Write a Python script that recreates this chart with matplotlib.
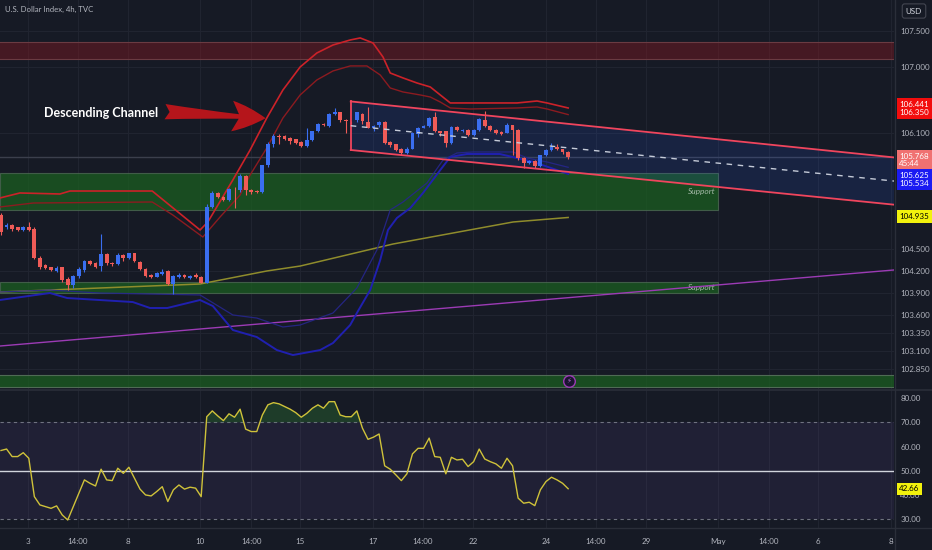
import matplotlib
matplotlib.use("Agg")
import matplotlib.pyplot as plt
from matplotlib.transforms import blended_transform_factory

plt.rcParams['font.family'] = ['Lato', 'DejaVu Sans']

# ---- 4h candles, bar 0 = first visible bar ----
opens = [104.97, 104.80, 104.83, 104.80, 104.76, 104.80, 104.78, 104.38, 104.28, 104.25,
         104.20, 104.25, 104.09, 104.00, 104.13, 104.21, 104.34, 104.31, 104.27, 104.43,
         104.31, 104.29, 104.42, 104.38, 104.44, 104.32, 104.23, 104.15, 104.12, 104.16,
         104.20, 104.02, 104.12, 104.15, 104.10, 104.14, 104.12, 104.04, 105.08, 105.27,
         105.22, 105.17, 105.33, 105.31, 105.51, 105.31, 105.30, 105.28, 105.65, 105.95,
         106.06, 106.05, 106.03, 106.01, 105.97, 105.92, 106.00, 106.12, 106.22, 106.19,
         106.36, 106.38, 106.28, 106.24, 106.27, 106.36, 106.25, 106.17, 106.20, 106.25,
         105.97, 105.94, 105.88, 105.82, 105.88, 106.08, 106.17, 106.19, 106.32, 106.12,
         106.12, 105.96, 106.18, 106.12, 106.14, 106.07, 106.14, 106.28, 106.19, 106.14,
         106.11, 106.10, 106.20, 106.14, 105.75, 105.69, 105.71, 105.64, 105.79, 105.86,
         105.90, 105.87, 105.84]
closes = [104.74, 104.83, 104.77, 104.76, 104.80, 104.76, 104.38, 104.25, 104.24, 104.21,
          104.24, 104.07, 104.00, 104.13, 104.23, 104.34, 104.30, 104.26, 104.43, 104.31,
          104.29, 104.42, 104.38, 104.44, 104.33, 104.22, 104.13, 104.12, 104.17, 104.19,
          104.02, 104.13, 104.15, 104.11, 104.13, 104.11, 104.04, 105.08, 105.27, 105.22,
          105.18, 105.33, 105.32, 105.51, 105.31, 105.28, 105.28, 105.65, 105.95, 106.06,
          106.04, 106.02, 105.99, 105.96, 105.92, 106.00, 106.12, 106.22, 106.20, 106.36,
          106.38, 106.27, 106.26, 106.23, 106.38, 106.26, 106.17, 106.19, 106.25, 105.96,
          105.93, 105.86, 105.82, 105.88, 106.10, 106.17, 106.19, 106.30, 106.12, 106.10,
          105.96, 106.18, 106.14, 106.14, 106.07, 106.14, 106.29, 106.19, 106.14, 106.09,
          106.08, 106.20, 106.14, 105.75, 105.68, 105.71, 105.64, 105.79, 105.86, 105.91,
          105.87, 105.83, 105.77]
highs = [104.99, 104.86, 104.84, 104.81, 104.82, 104.87, 104.80, 104.40, 104.30, 104.26,
         104.27, 104.26, 104.12, 104.15, 104.25, 104.35, 104.35, 104.32, 104.71, 104.44,
         104.32, 104.44, 104.43, 104.45, 104.45, 104.33, 104.24, 104.16, 104.18, 104.23,
         104.21, 104.14, 104.17, 104.16, 104.14, 104.17, 104.13, 105.12, 105.30, 105.29,
         105.23, 105.34, 105.36, 105.53, 105.52, 105.32, 105.31, 105.66, 105.97, 106.08,
         106.08, 106.07, 106.04, 106.02, 105.98, 106.16, 106.13, 106.23, 106.23, 106.37,
         106.44, 106.39, 106.29, 106.26, 106.39, 106.37, 106.45, 106.20, 106.26, 106.26,
         105.98, 105.95, 105.89, 105.90, 106.11, 106.18, 106.21, 106.31, 106.39, 106.13,
         106.13, 106.19, 106.19, 106.15, 106.15, 106.15, 106.30, 106.40, 106.20, 106.15,
         106.12, 106.24, 106.21, 106.15, 105.76, 105.72, 105.72, 105.80, 105.88, 105.96,
         105.94, 105.88, 105.85]
lows = [104.70, 104.78, 104.75, 104.75, 104.75, 104.75, 104.37, 104.23, 104.22, 104.20,
        104.19, 104.05, 103.94, 103.97, 104.10, 104.19, 104.28, 104.24, 104.20, 104.28,
        104.27, 104.28, 104.33, 104.36, 104.32, 104.21, 104.11, 104.10, 104.11, 104.15,
        104.01, 103.88, 104.10, 104.10, 104.09, 104.10, 104.03, 104.03, 105.06, 105.20,
        105.16, 105.16, 105.07, 105.29, 105.24, 105.26, 105.27, 105.27, 105.63, 105.90,
        105.95, 106.00, 105.95, 105.94, 105.90, 105.91, 105.98, 106.11, 106.19, 106.18,
        106.34, 106.25, 106.10, 106.22, 106.25, 106.22, 106.16, 106.12, 106.18, 105.95,
        105.91, 105.85, 105.80, 105.81, 105.87, 106.04, 106.16, 106.18, 106.11, 106.05,
        105.90, 105.95, 106.13, 106.11, 106.06, 106.06, 106.13, 106.18, 106.13, 106.08,
        106.07, 106.09, 105.80, 105.73, 105.62, 105.67, 105.62, 105.63, 105.78, 105.85,
        105.86, 105.81, 105.74]

rsi = [58.4, 59.0, 55.9, 55.9, 57.5, 55.2, 39.4, 36.0, 35.3, 34.6,
       35.6, 31.9, 29.8, 35.3, 40.8, 46.3, 44.9, 43.8, 50.7, 46.3,
       46.0, 51.1, 49.0, 51.5, 47.0, 42.5, 40.1, 39.7, 41.5, 43.5,
       37.4, 42.2, 44.2, 42.5, 43.3, 42.9, 39.4, 72.3, 74.7, 72.6,
       70.7, 73.5, 72.1, 75.4, 67.2, 66.2, 66.2, 73.0, 77.2, 78.1,
       77.6, 76.5, 75.4, 74.0, 72.1, 73.7, 75.8, 77.2, 75.8, 78.5,
       78.5, 73.0, 72.3, 72.3, 74.7, 67.6, 63.0, 63.9, 65.2, 52.1,
       50.7, 48.4, 46.0, 48.8, 57.0, 59.3, 59.3, 63.5, 55.9, 55.6,
       48.8, 55.6, 54.5, 54.8, 51.8, 53.8, 59.0, 54.9, 53.8, 52.9,
       51.1, 55.2, 52.1, 38.8, 36.7, 37.1, 35.7, 42.2, 45.6, 47.4,
       46.3, 44.9, 42.66]

# ---- band / average knots (bar, price) ----
upper_x = [-0.2, 3.4, 10.6, 12.4, 27.2, 35.8, 37.2, 41.7, 44.8, 47.8, 50.7, 53.8, 56.8, 59.7,
           62.8, 64.6, 66.9, 68.7, 70.0, 72.3, 74.8, 77.2, 79.0, 80.8, 84.4, 92.8, 96.4, 98.2, 102.0]
upper_y = [105.203, 105.272, 105.258, 105.299, 105.299, 104.763, 104.873, 105.451, 105.863,
           106.303, 106.688, 107.005, 107.197, 107.307, 107.376, 107.404, 107.335, 107.142,
           106.922, 106.854, 106.785, 106.730, 106.620, 106.510, 106.510, 106.510, 106.537,
           106.510, 106.441]
upper_in_x = [-0.2, 5.8, 27.2, 30.9, 36.3, 39.4, 43.0, 44.8, 47.8, 50.7, 53.8, 56.8, 59.7, 62.8,
              65.8, 68.2, 70.0, 72.3, 75.4, 77.2, 79.0, 80.8, 84.4, 92.8, 96.4, 98.2, 102.0]
upper_in_y = [105.079, 105.134, 105.148, 104.969, 104.666, 104.942, 105.244, 105.519, 105.891,
              106.303, 106.620, 106.826, 106.950, 107.019, 107.019, 106.895, 106.716, 106.661,
              106.620, 106.592, 106.523, 106.441, 106.427, 106.441, 106.455, 106.427, 106.350]
lower_x = [-0.2, 8.8, 11.9, 23.7, 26.8, 29.9, 35.8, 38.1, 41.7, 46.0, 49.6, 52.5, 57.4, 59.7,
           62.8, 64.0, 66.4, 68.2, 69.6, 71.2, 73.6, 75.9, 79.0, 80.8, 83.8, 89.7, 95.7, 102.0]
lower_y = [103.800, 103.896, 103.827, 103.772, 103.690, 103.690, 103.800, 103.717, 103.387,
           103.291, 103.112, 103.043, 103.112, 103.208, 103.456, 103.621, 103.937, 104.350,
           104.763, 104.928, 105.065, 105.272, 105.588, 105.767, 105.808, 105.808, 105.700,
           105.534]
lower_in_x = [-0.2, 8.8, 17.8, 35.8, 41.7, 46.0, 50.7, 53.8, 59.7, 64.0, 67.6, 70.0, 72.3, 76.6,
              79.5, 82.0, 84.9, 92.1, 94.6, 98.2, 102.0]
lower_in_y = [103.910, 103.937, 103.896, 103.869, 103.594, 103.552, 103.429, 103.456, 103.621,
              103.965, 104.487, 105.038, 105.148, 105.409, 105.726, 105.822, 105.836, 105.836,
              105.753, 105.698, 105.625]
ma_x = [-0.2, 17.8, 35.8, 47.8, 53.8, 70.5, 92.1, 102.0]
ma_y = [103.910, 103.965, 104.020, 104.199, 104.267, 104.570, 104.873, 104.935]

# ---- drawings ----
trend_x = [-0.2, 160.6]
trend_y = [103.167, 104.213]
channel_x = [62.9, 160.6]
channel_top = [106.531, 105.761]
channel_bot = [105.863, 105.111]
channel_mid = [106.197, 105.436]
resistance_zone = (107.115, 107.349)
support_zones = [(105.038, 105.547), (103.896, 104.054)]
demand_zone = (102.603, 102.768)
zone_end = 129.0
last_price = 105.768

price_ticks = [107.5, 107.0, 106.1, 104.5, 104.2, 103.9, 103.6, 103.35, 103.1, 102.85]
rsi_ticks = [80, 70, 60, 50, 40, 30]
time_pos = [4.9, 13.8, 22.8, 35.8, 45.0, 53.8, 66.9, 75.9, 84.9, 98.0, 107.0, 116.0,
            129.0, 138.1, 146.9, 160.1]
time_labels = ['3', '14:00', '8', '10', '14:00', '15', '17', '14:00', '22', '24', '14:00',
               '29', 'May', '14:00', '6', '8']

BG = '#161a25'
GRID = '#212531'
TXT = '#b2b5be'
UP = '#3a6ef0'
DOWN = '#ef5b57'
XMAX = 160.6


def draw_price_panel(ax):
    ax.set_facecolor(BG)
    ax.set_xlim(-0.18, XMAX)
    ax.set_ylim(102.576, 107.926)
    for p in time_pos:
        ax.axvline(p, color=GRID, lw=0.7, zorder=0)
    for p in price_ticks:
        ax.axhline(p, color=GRID, lw=0.7, zorder=0)
    ax.axhline(last_price, color='#3b3f4c', lw=1.0, zorder=0.6)

    # zones
    ax.axhspan(*resistance_zone, facecolor='#801922', alpha=0.45, zorder=1)
    for v in resistance_zone:
        ax.axhline(v, color='#6a3b42', lw=0.8, zorder=1)
    ax.axhspan(*demand_zone, facecolor='#1b5e20', alpha=0.75, zorder=1)
    for v in demand_zone:
        ax.axhline(v, color='#4f6b55', lw=0.8, zorder=1)
    for lo, hi in support_zones:
        ax.fill_between([-0.2, zone_end], lo, hi, facecolor='#1b5e20', alpha=0.75,
                        edgecolor='#4f6b55', lw=0.8, zorder=1)
        ax.text(zone_end - 0.5, (lo + hi) / 2, 'Support', color='#a3b8a6', fontsize=6,
                style='italic', ha='right', va='center', zorder=2)

    # channel
    ax.fill_between(channel_x, channel_bot, channel_top, facecolor='#2962ff', alpha=0.13,
                    lw=0, zorder=1.5)
    ax.plot(channel_x, channel_top, color='#f0455d', lw=1.3, zorder=4)
    ax.plot(channel_x, channel_bot, color='#f0455d', lw=1.3, zorder=4)
    ax.plot([channel_x[0], channel_x[0]], [channel_bot[0], channel_top[0]], color='#f0455d',
            lw=1.3, zorder=4)
    ax.plot(channel_x, channel_mid, color='#c5cbd8', lw=1.0, ls=(0, (4, 4)), zorder=4)

    # trend line, average, bands
    ax.plot(trend_x, trend_y, color='#9c3bb5', lw=1.0, zorder=2)
    ax.plot(ma_x, ma_y, color='#8f8c2c', lw=1.1, zorder=2)
    ax.plot(upper_x, upper_y, color='#cc2229', lw=1.2, zorder=2)
    ax.plot(upper_in_x, upper_in_y, color='#8c1b20', lw=1.0, zorder=2)
    ax.plot(lower_x, lower_y, color='#2020b0', lw=1.4, zorder=2)
    ax.plot(lower_in_x, lower_in_y, color='#26268c', lw=0.9, alpha=0.9, zorder=2)

    # candles
    x = list(range(len(opens)))
    colors = [UP if c >= o else DOWN for o, c in zip(opens, closes)]
    bottoms = [min(o, c) for o, c in zip(opens, closes)]
    heights = [max(abs(c - o), 0.008) for o, c in zip(opens, closes)]
    ax.vlines(x, lows, highs, colors=colors, lw=0.8, zorder=3)
    ax.bar(x, heights, bottom=bottoms, width=0.68, color=colors, lw=0, zorder=3)

    # annotation
    ax.text(7.7, 106.372, 'Descending Channel', color='white', fontsize=9,
            fontweight='bold', ha='left', va='center', zorder=5)
    ax.annotate('', xy=(47.6, 106.30), xytext=(29.5, 106.39),
                arrowprops=dict(arrowstyle='fancy,head_length=1.1,head_width=1.0,tail_width=0.5',
                                fc='#b5151b', ec='none', mutation_scale=22,
                                shrinkA=0, shrinkB=0), zorder=5)
    ax.scatter([102.2], [sum(demand_zone) / 2], s=70, facecolor='#1b1430',
               edgecolor='#9c3bb5', lw=1.0, zorder=5)
    ax.text(102.2, sum(demand_zone) / 2, '\u26a1', color='#b36ad0', fontsize=5,
            ha='center', va='center', family='DejaVu Sans', zorder=6)

    ax.text(0.006, 0.975, 'U.S. Dollar Index, 4h, TVC', transform=ax.transAxes,
            color=TXT, fontsize=5.6, ha='left', va='center')

    ax.yaxis.tick_right()
    ax.set_yticks(price_ticks)
    ax.set_yticklabels([f'{p:.3f}' for p in price_ticks])
    ax.tick_params(axis='y', length=0, pad=4.5, labelsize=5.8, labelcolor=TXT)
    ax.set_xticks([])
    for s in ax.spines.values():
        s.set_visible(False)

    # price tags on the scale
    tr = blended_transform_factory(ax.transAxes, ax.transData)
    tags = [('106.441\n106.350', '#f20d0d', 'white', 106.434),
            ('105.768\n45:44', '#f07171', 'white', 105.726),
            ('105.625\n105.534', '#1b1bf2', 'white', 105.457),
            ('104.935', '#f2f20d', 'black', 104.948)]
    for txt, bg, fg, yv in tags:
        ax.text(1.006, yv, txt, transform=tr, color=fg, fontsize=5.8, ha='left',
                va='center', linespacing=1.15, clip_on=False, zorder=10,
                bbox=dict(boxstyle='square,pad=0.35', facecolor=bg, edgecolor='none'))


def draw_rsi_panel(ax):
    ax.set_facecolor(BG)
    ax.set_xlim(-0.18, XMAX)
    ax.set_ylim(26.5, 83.3)
    for p in time_pos:
        ax.axvline(p, color=GRID, lw=0.7, zorder=0)
    ax.axhspan(30, 70, facecolor='#7e57c2', alpha=0.1, zorder=0.5)
    ax.axhline(70, color='#6f7280', lw=0.8, ls=(0, (3, 3)), zorder=1)
    ax.axhline(30, color='#6f7280', lw=0.8, ls=(0, (3, 3)), zorder=1)
    ax.axhline(50, color='#d1d4dc', lw=1.0, zorder=1)
    x = list(range(len(rsi)))
    ax.fill_between(x, 70, rsi, where=[v > 70 for v in rsi], interpolate=True,
                    facecolor='#2e7d32', alpha=0.35, lw=0, zorder=1.5)
    ax.plot(x, rsi, color='#cfc23a', lw=1.0, zorder=2)

    ax.yaxis.tick_right()
    ax.set_yticks(rsi_ticks)
    ax.set_yticklabels([f'{v:.2f}' for v in rsi_ticks])
    ax.tick_params(axis='y', length=0, pad=4.5, labelsize=5.8, labelcolor=TXT)
    ax.set_xticks(time_pos)
    ax.set_xticklabels(time_labels)
    ax.tick_params(axis='x', length=0, pad=7, labelsize=5.8, labelcolor=TXT)
    for s in ax.spines.values():
        s.set_visible(False)

    tr = blended_transform_factory(ax.transAxes, ax.transData)
    ax.text(1.006, rsi[-1], f'{rsi[-1]:.2f}', transform=tr, color='black', fontsize=5.8,
            ha='left', va='center', clip_on=False, zorder=10,
            bbox=dict(boxstyle='square,pad=0.3', facecolor='#f2f20d', edgecolor='none'))


def main():
    fig = plt.figure(figsize=(9.32, 5.5), dpi=100, facecolor=BG)
    W, H = 932.0, 550.0
    ax = fig.add_axes([0, 1 - 389 / H, 894 / W, 389 / H])
    ax_rsi = fig.add_axes([0, 22 / H, 894 / W, 138 / H])
    draw_price_panel(ax)
    draw_rsi_panel(ax_rsi)

    # panel separators
    fig.add_artist(plt.Line2D([0, 1], [1 - 389.5 / H] * 2, color='#2a2e39', lw=1.2))
    fig.add_artist(plt.Line2D([0, 1], [22 / H] * 2, color='#2a2e39', lw=1.0))
    fig.add_artist(plt.Line2D([894.5 / W] * 2, [0, 1], color='#2a2e39', lw=1.0))

    fig.text(914 / W, 1 - 11 / H, 'USD', color='#d1d4dc', fontsize=5.8, ha='center',
             va='center', bbox=dict(boxstyle='round,pad=0.45,rounding_size=0.3',
                                    facecolor=BG, edgecolor='#434651', lw=0.8))

    fig.savefig('out.png', dpi=100, facecolor=BG)
    plt.close(fig)


if __name__ == '__main__':
    main()
